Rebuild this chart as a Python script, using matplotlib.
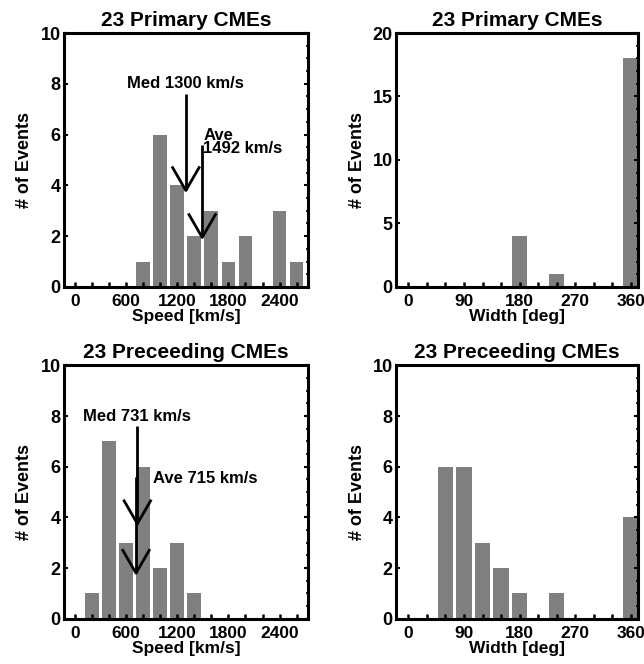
import numpy as np
import matplotlib
matplotlib.use('Agg')
import matplotlib.pyplot as plt
from matplotlib.ticker import MultipleLocator

plt.rcParams['font.family'] = ['Liberation Sans', 'DejaVu Sans']
plt.rcParams['font.weight'] = 'bold'
plt.rcParams['axes.labelweight'] = 'bold'
plt.rcParams['axes.titleweight'] = 'bold'

# histogram data
speed_centers_primary = [800, 1000, 1200, 1400, 1600, 1800, 2000, 2200, 2400, 2600]
speed_counts_primary = [1, 6, 4, 2, 3, 1, 2, 0, 3, 1]
speed_centers_preceding = [200, 400, 600, 800, 1000, 1200, 1400]
speed_counts_preceding = [1, 7, 3, 6, 2, 3, 1]

width_centers_primary = [180, 240, 360]
width_counts_primary = [4, 1, 18]
width_centers_preceding = [60, 90, 120, 150, 180, 240, 360]
width_counts_preceding = [6, 6, 3, 2, 1, 1, 4]

med_primary, ave_primary = 1300, 1492
med_preceding, ave_preceding = 731, 715

titles = ['23 Primary CMEs', '23 Preceeding CMEs']
BAR = '#808080'


def draw_arrow(ax, x, y_top, y_tip, dx, dy):
    ax.plot([x, x], [y_top, y_tip], color='black', lw=2.0, solid_capstyle='butt', zorder=4)
    ax.plot([x - dx, x, x + dx], [y_tip + dy, y_tip, y_tip + dy], color='black', lw=2.0, zorder=4)


def style_axes(ax, tick_size=12.5):
    for sp in ax.spines.values():
        sp.set_linewidth(2.2)
    ax.tick_params(axis='x', which='both', direction='in', top=False, bottom=True,
                   length=3.5, width=1.8, labelsize=tick_size, pad=5)
    ax.tick_params(axis='y', which='major', direction='in', left=True, right=True,
                   length=3, width=1.5, labelsize=13, pad=2.5)
    ax.tick_params(axis='y', which='minor', direction='in', left=True, right=True,
                   length=1.5, width=1.2)


def speed_panel(ax, centers, counts, title):
    ax.bar(centers, counts, width=162, color=BAR, zorder=1)
    ax.set_xlim(-130, 2735)
    ax.set_ylim(0, 10)
    ax.xaxis.set_major_locator(MultipleLocator(600))
    ax.xaxis.set_minor_locator(MultipleLocator(200))
    ax.yaxis.set_major_locator(MultipleLocator(2))
    ax.yaxis.set_minor_locator(MultipleLocator(0.5))
    ax.set_xlabel('Speed [km/s]', fontsize=12.5, labelpad=0)
    ax.set_ylabel('# of Events', fontsize=13, labelpad=5)
    ax.set_title(title, fontsize=15, pad=5)
    style_axes(ax)


def width_panel(ax, centers, counts, title, ymax, ystep, yminor):
    ax.bar(centers, counts, width=24.5, color=BAR, zorder=1)
    ax.set_xlim(-20, 371)
    ax.set_ylim(0, ymax)
    ax.xaxis.set_major_locator(MultipleLocator(90))
    ax.xaxis.set_minor_locator(MultipleLocator(30))
    ax.yaxis.set_major_locator(MultipleLocator(ystep))
    ax.yaxis.set_minor_locator(MultipleLocator(yminor))
    ax.set_xlabel('Width [deg]', fontsize=12.5, labelpad=0)
    ax.set_ylabel('# of Events', fontsize=13, labelpad=5)
    ax.set_title(title, fontsize=15, pad=5)
    style_axes(ax)


fig = plt.figure(figsize=(6.44, 6.64), dpi=100)
ax1 = fig.add_axes([0.0994, 0.5678, 0.379, 0.3825])
ax2 = fig.add_axes([0.615, 0.5678, 0.375, 0.3825])
ax3 = fig.add_axes([0.0994, 0.0682, 0.379, 0.3816])
ax4 = fig.add_axes([0.615, 0.0682, 0.375, 0.3816])

speed_panel(ax1, speed_centers_primary, speed_counts_primary, titles[0])
speed_panel(ax3, speed_centers_preceding, speed_counts_preceding, titles[1])
width_panel(ax2, width_centers_primary, width_counts_primary, titles[0], 20, 5, 1)
width_panel(ax4, width_centers_preceding, width_counts_preceding, titles[1], 10, 2, 0.5)

# median / average arrows
head_dx, head_dy = 155, 0.9
draw_arrow(ax1, med_primary, 7.6, 3.8, head_dx, head_dy)
draw_arrow(ax1, ave_primary, 5.6, 1.95, head_dx, head_dy)
ax1.text(med_primary, 8.0, f'Med {med_primary} km/s', ha='center', va='center', fontsize=12)
ax1.text(ave_primary + 15, 5.7, f'Ave\n{ave_primary} km/s', ha='left', va='center',
         fontsize=12, linespacing=0.85)

draw_arrow(ax3, med_preceding, 7.6, 3.75, head_dx, head_dy)
draw_arrow(ax3, ave_preceding, 5.6, 1.8, head_dx, head_dy)
ax3.text(med_preceding, 8.0, f'Med {med_preceding} km/s', ha='center', va='center', fontsize=12)
ax3.text(ave_preceding + 200, 5.55, f'Ave {ave_preceding} km/s', ha='left', va='center', fontsize=12)

fig.savefig('out.png', dpi=100)
